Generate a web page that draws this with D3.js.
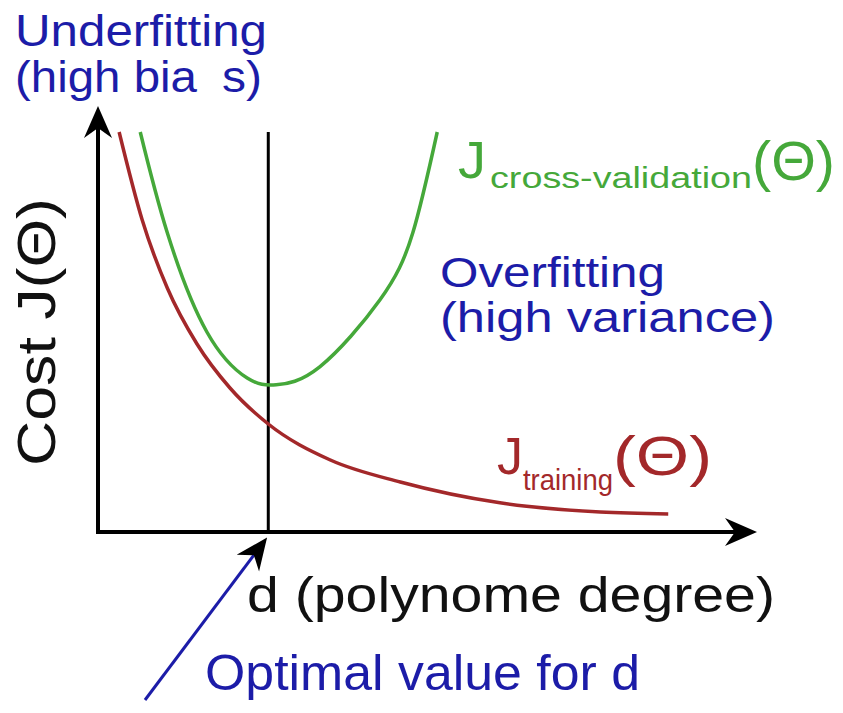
<!DOCTYPE html>
<html>
<head>
<meta charset="utf-8">
<script src="https://cdn.jsdelivr.net/npm/d3@7"></script>
<style>
  html, body { margin: 0; padding: 0; background: #fff; }
  svg { display: block; }
</style>
</head>
<body>
<div id="chart"></div>
<script>
// Bias / variance sketch: cost vs polynomial degree (schematic units 0..100)

const trainingDegree = [3.2, 6.7, 10.5, 15, 20, 25.8, 35.2, 45.8, 60.9, 76.1, 86.4];
const trainingCost   = [100, 78, 61, 47, 36, 27, 18, 12.5, 7.3, 5, 4.5];

const cvDegree = [6.4, 10.5, 16.5, 22.6, 27, 33.6, 42.7, 47.7, 51.4];
const cvCost   = [100, 74.8, 50, 38.5, 36.8, 41.3, 58, 74.8, 100];

const optimalDegree = 25.8;

const width = 843;
const height = 713;
const font = 'Liberation Sans, Arial, Helvetica, sans-serif';

const blue = '#1c1ca8';
const green = '#45a83a';
const red = '#a3282a';

const x = d3.scaleLinear().domain([0, 100]).range([98, 758]);
const y = d3.scaleLinear().domain([0, 100]).range([532, 132]);

const svg = d3.select('#chart').append('svg')
  .attr('width', width)
  .attr('height', height)
  .style('font-family', font);

// arrow head marker
const defs = svg.append('defs');
defs.append('marker')
  .attr('id', 'head')
  .attr('viewBox', '-34 -16 36 32')
  .attr('refX', -8)
  .attr('refY', 0)
  .attr('markerWidth', 36)
  .attr('markerHeight', 32)
  .attr('markerUnits', 'userSpaceOnUse')
  .attr('orient', 'auto')
  .append('path')
  .attr('d', 'M0,0 L-32,-14 L-22,0 L-32,14 Z')
  .attr('fill', '#000');

// axes
svg.append('line')
  .attr('x1', x(0)).attr('y1', y(0))
  .attr('x2', x(0)).attr('y2', 114)
  .attr('stroke', '#000').attr('stroke-width', 4)
  .attr('marker-end', 'url(#head)');

svg.append('line')
  .attr('x1', x(0) - 2).attr('y1', y(0))
  .attr('x2', 749).attr('y2', y(0))
  .attr('stroke', '#000').attr('stroke-width', 4)
  .attr('marker-end', 'url(#head)');

// optimal d marker line
svg.append('line')
  .attr('x1', x(optimalDegree)).attr('y1', y(100))
  .attr('x2', x(optimalDegree)).attr('y2', y(0))
  .attr('stroke', '#000').attr('stroke-width', 3);

// curves
const lineFor = curve => d3.line()
  .x(d => x(d[0]))
  .y(d => y(d[1]))
  .curve(curve);

svg.append('path')
  .attr('d', lineFor(d3.curveMonotoneX)(d3.zip(trainingDegree, trainingCost)))
  .attr('fill', 'none')
  .attr('stroke', red)
  .attr('stroke-width', 3.5);

svg.append('path')
  .attr('d', lineFor(d3.curveNatural)(d3.zip(cvDegree, cvCost)))
  .attr('fill', 'none')
  .attr('stroke', green)
  .attr('stroke-width', 3.5);

// pointer to optimal d
svg.append('line')
  .attr('x1', 145).attr('y1', 700)
  .attr('x2', x(optimalDegree) - 6).attr('y2', y(0) + 12)
  .attr('stroke', blue).attr('stroke-width', 3)
  .attr('marker-end', 'url(#head)');

// text helper
function label(str, px, py, size, color, len) {
  const t = svg.append('text')
    .attr('x', px).attr('y', py)
    .attr('font-size', size)
    .attr('fill', color)
    .text(str);
  if (len) t.attr('textLength', len).attr('lengthAdjust', 'spacingAndGlyphs');
  return t;
}

label('Underfitting', 15, 46, 44, blue, 252);
label('(high bia', 15, 92, 44, blue, 182);
label('s)', 222, 92, 44, blue, 40);

label('Overfitting', 440, 287, 42, blue, 225);
label('(high variance)', 440, 332, 42, blue, 335);

// J cross-validation
label('J', 458, 178, 52, green, 28);
label('cross-validation', 490, 188, 30, green, 262);
label('(\u0398)', 752, 180, 56, green, 83);

// J training
label('J', 497, 474, 52, red, 26);
label('training', 523, 490, 30, red, 90);
label('(\u0398)', 613, 475, 56, red, 99);

// axis labels
label('d (polynome degree)', 247, 612, 50, '#111', 528);
label('Optimal value for d', 205, 690, 50, blue, 435);

svg.append('text')
  .attr('transform', 'translate(55,466) rotate(-90)')
  .attr('font-size', 54)
  .attr('fill', '#111')
  .attr('textLength', 268)
  .attr('lengthAdjust', 'spacingAndGlyphs')
  .text('Cost J(\u0398)');
</script>
</body>
</html>
